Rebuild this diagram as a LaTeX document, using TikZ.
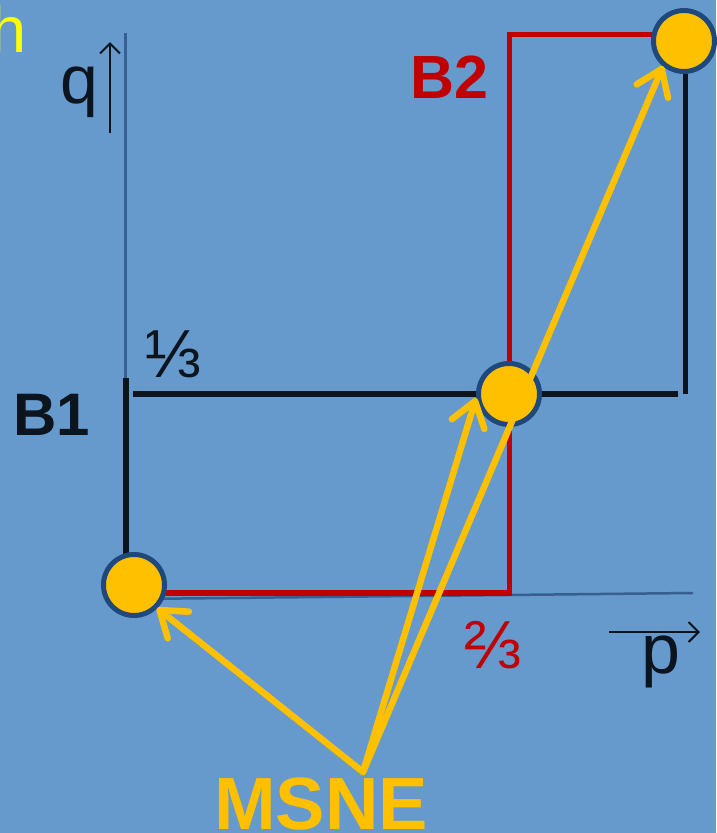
\documentclass[tikz,border=0pt]{standalone}
\usepackage{fontspec}
\setmainfont{Liberation Sans}
\usetikzlibrary{arrows.meta}
\definecolor{bgblue}{RGB}{102,153,204}
\definecolor{msyellow}{RGB}{255,192,0}
\definecolor{hyellow}{RGB}{255,255,0}
\definecolor{brred}{RGB}{192,0,0}
\definecolor{brblack}{RGB}{12,20,30}
\definecolor{ringblue}{RGB}{31,73,125}
\definecolor{axisblue}{RGB}{55,96,146}
\tikzset{
  lbl/.style={inner sep=0pt, anchor=base west},
  axisline/.style={axisblue, line width=2.5pt},
  brline/.style={line width=5.5pt},
  eqpt/.style={circle, fill=msyellow, draw=ringblue, line width=5pt, minimum size=61pt, inner sep=0pt},
  msarrow/.style={msyellow, line width=6.5pt, line cap=round, -{Straight Barb[length=24pt,width=34pt,round]}},
  thinarrow/.style={brblack, line width=2pt, -{Straight Barb[length=10pt,width=20pt]}}
}
\begin{document}
\begin{tikzpicture}[x=1pt,y=-1pt]
\fill[bgblue] (0,0) rectangle (716,833);
\useasboundingbox (0,0) rectangle (716,833);
% partial yellow letter
\begin{scope}
\clip (0,0) rectangle (716,833);
\node[lbl, text=hyellow, font=\fontsize{65}{65}\selectfont] (hlet) at (-10,52) {h};
\end{scope}
% axes
\coordinate (vtop) at (125.5,33);
\coordinate (vbot) at (125.5,378);
\coordinate (hleft) at (134,599);
\coordinate (hright) at (693,593);
\draw[axisline] (vtop) -- (vbot);
\draw[axisline] (hleft) -- (hright);
% axis arrows and labels
\coordinate (qa) at (110,133);
\coordinate (qb) at (110,42);
\draw[thinarrow] (qa) -- (qb);
\node[lbl, text=brblack, font=\fontsize{68}{68}\selectfont] (q) at (60,103) {q};
\coordinate (pa) at (609,632);
\coordinate (pb) at (700,632);
\draw[thinarrow] (pa) -- (pb);
\node[lbl, text=brblack, font=\fontsize{70}{70}\selectfont] (p) at (641,673) {p};
% equilibrium points
\coordinate (c1) at (134,585);
\coordinate (c2) at (509,394);
\coordinate (c3) at (684,41);
% best response B2 (red)
\coordinate (r1) at (509.5,593);
\coordinate (r2) at (509.5,34.5);
\draw[brred, brline] (c1 |- r1) -- (r1) -- (r2) -- (c3 |- r2);
% best response B1 (black)
\coordinate (k1) at (126,378);
\coordinate (k2) at (126,585);
\coordinate (k3) at (133,394);
\coordinate (k4) at (678,394);
\coordinate (k5) at (685.5,41);
\coordinate (k6) at (685.5,394);
\draw[brblack, brline] (k1) -- (k2);
\draw[brblack, brline] (k3) -- (k4);
\draw[brblack, brline] (k5) -- (k6);
% circles
\node[eqpt] (e1) at (c1) {};
\node[eqpt] (e2) at (c2) {};
\node[eqpt] (e3) at (c3) {};
% labels
\node[lbl, text=brblack, font=\fontsize{60}{60}\selectfont\bfseries] (B1) at (13,435) {B1};
\node[lbl, text=brred, font=\fontsize{61}{61}\selectfont\bfseries] (B2) at (410,98) {B2};
\node[lbl, text=brblack, font=\fontsize{68}{68}\selectfont] (third) at (144,377) {⅓};
\node[lbl, text=brred, font=\fontsize{68}{68}\selectfont] (twothirds) at (464,668) {⅔};
\node[lbl, text=msyellow, font=\fontsize{74}{74}\selectfont\bfseries] (msne) at (214,829) {MSNE};
% MSNE arrows
\coordinate (m0) at (363,772);
\coordinate (t1) at (157,608);
\coordinate (t2) at (476,398);
\coordinate (t3) at (663,66);
\draw[msarrow] (m0) -- (t1);
\draw[msarrow] (m0) -- (t2);
\draw[msarrow] (m0) -- (t3);
\end{tikzpicture}
\end{document}
